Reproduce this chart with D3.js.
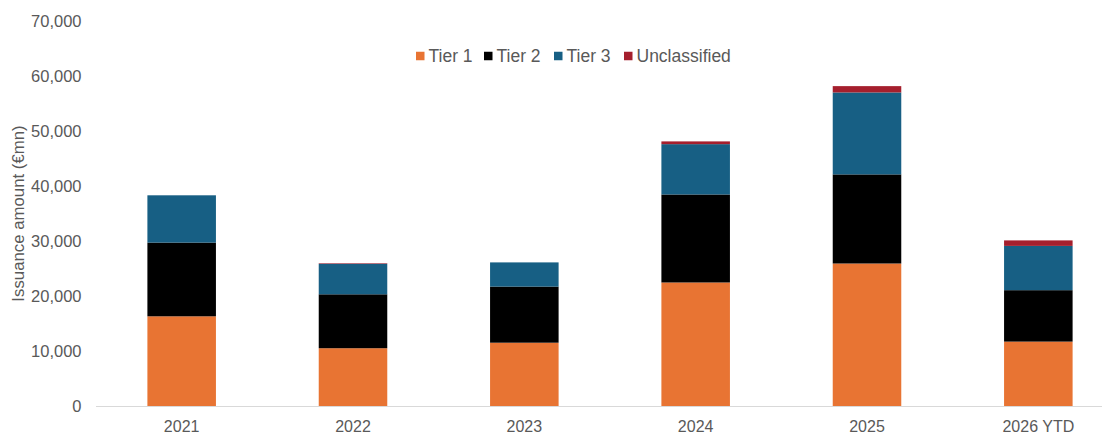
<!DOCTYPE html>
<html>
<head>
<meta charset="utf-8">
<script src="https://cdn.jsdelivr.net/npm/d3@7"></script>
<style>
  html, body { margin: 0; padding: 0; background: #fff; }
  svg { display: block; font-family: "Liberation Sans", Arial, sans-serif; }
</style>
</head>
<body>
<svg id="chart" width="1102" height="441"></svg>
<script>
const categories = ["2021", "2022", "2023", "2024", "2025", "2026 YTD"];
const seriesNames = ["Tier 1", "Tier 2", "Tier 3", "Unclassified"];
const tier1 = [16400, 10600, 11600, 22550, 26000, 11800];
const tier2 = [13400, 9800, 10200, 16000, 16200, 9350];
const tier3 = [8600, 5550, 4400, 9150, 14900, 8050];
const unclassified = [0, 100, 0, 500, 1150, 1000];
const yTicks = [0, 10000, 20000, 30000, 40000, 50000, 60000, 70000];
const colors = ["#E87433", "#000000", "#175F84", "#A51F2D"];

const rows = categories.map((c, i) => ({
  cat: c, "Tier 1": tier1[i], "Tier 2": tier2[i], "Tier 3": tier3[i], "Unclassified": unclassified[i]
}));

const svg = d3.select("#chart");
const x = d3.scaleBand().domain(categories).range([96, 1124]).paddingInner(0.6).paddingOuter(0.3);
const y = d3.scaleLinear().domain([0, 70000]).range([406.5, 21.5]);
const color = d3.scaleOrdinal().domain(seriesNames).range(colors);

// y tick labels
svg.append("g").selectAll("text").data(yTicks).join("text")
  .attr("x", 81.5).attr("y", d => y(d)).attr("dy", "0.35em")
  .attr("text-anchor", "end").attr("font-size", 16.5).attr("fill", "#595959")
  .text(d => d3.format(",")(d));

// y title
svg.append("text")
  .attr("transform", `translate(23.5,213.5) rotate(-90)`)
  .attr("text-anchor", "middle").attr("font-size", 16.8).attr("fill", "#595959")
  .text("Issuance amount (€mn)");

// bars
const stacked = d3.stack().keys(seriesNames)(rows);
svg.append("g").selectAll("g").data(stacked).join("g")
  .attr("fill", d => color(d.key))
  .selectAll("rect").data(d => d).join("rect")
  .attr("x", d => x(d.data.cat))
  .attr("width", x.bandwidth())
  .attr("y", d => y(d[1]))
  .attr("height", d => Math.max(0, y(d[0]) - y(d[1])));

// x axis line
svg.append("line").attr("x1", 96).attr("x2", 1102).attr("y1", y(0)).attr("y2", y(0))
  .attr("stroke", "#d9d9d9").attr("stroke-width", 1);

// x labels
svg.append("g").selectAll("text").data(categories).join("text")
  .attr("x", d => x(d) + x.bandwidth() / 2).attr("y", 426).attr("dy", "0.35em")
  .attr("text-anchor", "middle").attr("font-size", 16).attr("fill", "#595959")
  .text(d => d);

// legend
const legendX = [416, 484, 554, 624];
const lg = svg.append("g").selectAll("g").data(seriesNames).join("g")
  .attr("transform", (d, i) => `translate(${legendX[i]},56)`);
lg.append("rect").attr("x", 0).attr("y", -4.25).attr("width", 8.5).attr("height", 8.5)
  .attr("fill", d => color(d));
lg.append("text").attr("x", 12.5).attr("y", 0).attr("dy", "0.35em")
  .attr("font-size", 17.5).attr("fill", "#595959").text(d => d);
</script>
</body>
</html>
